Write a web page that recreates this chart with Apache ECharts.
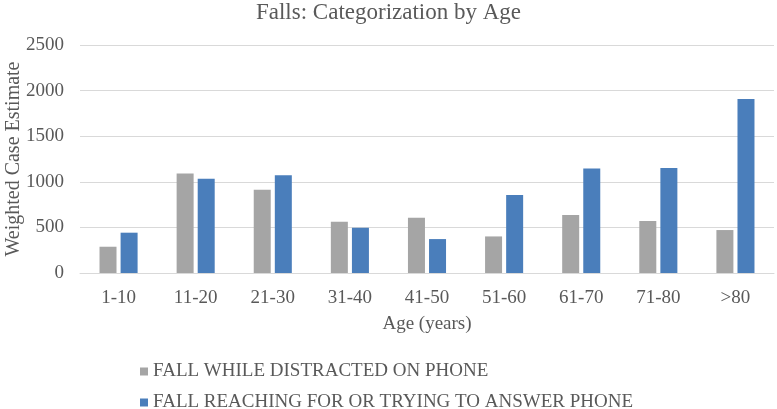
<!DOCTYPE html>
<html>
<head>
<meta charset="utf-8">
<script src="https://cdn.jsdelivr.net/npm/echarts@6/dist/echarts.min.js"></script>
<style>
  html, body { margin: 0; padding: 0; background: #fff; }
  #main { width: 777px; height: 409px; }
</style>
</head>
<body>
<div id="main"></div>
<script>
'use strict';

const ageGroups = ['1-10', '11-20', '21-30', '31-40', '41-50', '51-60', '61-70', '71-80', '>80'];
const distracted = [288, 1091, 912, 562, 606, 401, 635, 569, 471];
const reaching = [442, 1033, 1073, 496, 372, 854, 1146, 1150, 1909];
const yTicks = [0, 500, 1000, 1500, 2000, 2500];
const seriesNames = ['FALL WHILE DISTRACTED ON PHONE', 'FALL REACHING FOR OR TRYING TO ANSWER PHONE'];

const serif = '"Liberation Serif", "Times New Roman", serif';
const textGray = '#595959';

function legendRow(name, top) {
    return {
        data: [name],
        orient: 'horizontal',
        left: 135,
        top: top,
        itemWidth: 8,
        itemHeight: 8,
        icon: 'rect',
        textStyle: { fontFamily: serif, fontSize: 19, color: textGray }
    };
}

let mChart = echarts.init(document.getElementById('main'));

mChart.setOption({
    animation: false,
    title: {
        text: 'Falls: Categorization by Age',
        left: 'center',
        top: -4,
        textStyle: { fontFamily: serif, fontSize: 23, fontWeight: 'normal', color: textGray }
    },
    grid: { left: 80, right: 3, top: 45, bottom: 136, outerBoundsMode: 'none', containLabel: false },
    legend: [legendRow(seriesNames[0], 357), legendRow(seriesNames[1], 388)],
    xAxis: {
        type: 'category',
        data: ageGroups,
        name: 'Age (years)',
        nameLocation: 'middle',
        nameGap: 42,
        nameMoveOverlap: false,
        nameTextStyle: { fontFamily: serif, fontSize: 19, color: textGray },
        axisLine: { lineStyle: { color: '#d9d9d9', width: 1 } },
        axisTick: { show: false },
        axisLabel: { fontFamily: serif, fontSize: 19, color: textGray, margin: 16 }
    },
    yAxis: {
        type: 'value',
        min: yTicks[0],
        max: yTicks[yTicks.length - 1],
        interval: 500,
        name: 'Weighted Case Estimate',
        nameLocation: 'middle',
        nameGap: 56,
        nameMoveOverlap: false,
        nameTextStyle: { fontFamily: serif, fontSize: 20, color: textGray },
        axisLine: { show: false },
        axisTick: { show: false },
        splitLine: { lineStyle: { color: '#d9d9d9', width: 1 } },
        axisLabel: {
            fontFamily: serif, fontSize: 19, color: textGray, margin: 16,
            formatter: function (v) { return String(v); }
        }
    },
    series: [
        {
            name: seriesNames[0],
            type: 'bar',
            data: distracted,
            barWidth: 17,
            barGap: '24%',
            itemStyle: { color: '#a5a5a5' }
        },
        {
            name: seriesNames[1],
            type: 'bar',
            data: reaching,
            barWidth: 17,
            itemStyle: { color: '#4a7ebb' }
        }
    ]
});

window.onresize = function () {
    mChart.resize();
};
</script>
</body>
</html>
